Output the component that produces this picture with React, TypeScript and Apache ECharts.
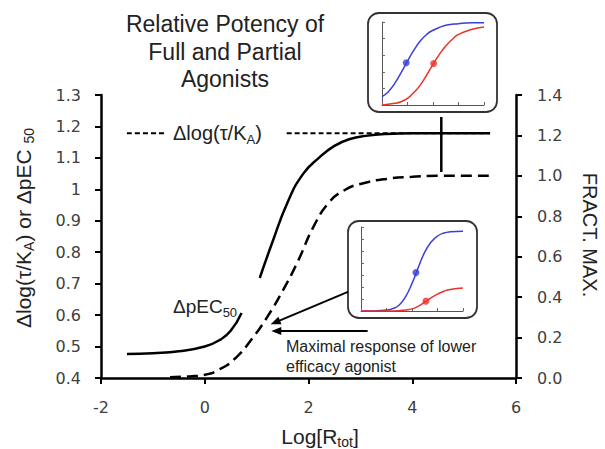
import React, { useEffect, useRef } from "react";
import * as echarts from "echarts";

// ---- main chart data ----
const xRange = [-2, 6, 2]; // min, max, interval  -> Log[Rtot]
const leftRange = [0.4, 1.3, 0.1]; // Δlog(τ/KA) or ΔpEC50
const rightRange = [0, 1.4, 0.2]; // FRACT. MAX.

// ΔpEC50 curve (solid), two pieces with a gap
const pec50LowX = [-1.5, -1.0, -0.5, 0.0, 0.3, 0.5, 0.71];
const pec50LowY = [0.476, 0.479, 0.485, 0.5, 0.522, 0.55, 0.607];
const pec50HighX = [1.06, 1.3, 1.6, 1.9, 2.2, 2.5, 2.8, 3.1, 3.5, 4.0, 4.5, 5.5];
const pec50HighY = [0.718, 0.83, 0.96, 1.05, 1.1, 1.138, 1.16, 1.17, 1.176, 1.178, 1.178, 1.178];

// Fractional maximum of lower efficacy agonist (dashed, right axis)
const fractX = [-0.67, -0.3, 0.0, 0.3, 0.6, 0.9, 1.2, 1.5, 1.8, 2.1, 2.4, 2.7, 3.0, 3.5, 4.0, 4.5, 5.5];
const fractY = [0.004, 0.008, 0.016, 0.045, 0.1, 0.19, 0.3, 0.43, 0.58, 0.75, 0.87, 0.93, 0.96, 0.985, 0.995, 1.0, 1.0];

// Δlog(τ/KA) level (fine dashed line)
const logTauKA = 1.178;
const tauLineLeftX = [-1.5, -0.77];
const tauLineRightX = [1.58, 5.5];

// connector between top inset and the two plateaus
const connectorX = 4.56;
const connectorY = [1.23, 1.055];

// arrows (data coords on right axis)
const arrowDiag = [[2.76, 0.426], [1.36, 0.275]];
const arrowHoriz = [[3.14, 0.233], [1.38, 0.233]];

// ---- inset 1 (full vs partial: potency shift) ----
const in1BlueX = [0, 0.5, 1, 1.5, 2, 2.5, 3, 3.5, 4, 5, 6, 7, 8];
const in1BlueY = [0.1, 0.16, 0.26, 0.39, 0.53, 0.66, 0.77, 0.85, 0.9, 0.96, 0.98, 0.99, 0.99];
const in1RedX = [0, 1, 1.5, 2, 2.5, 3, 3.5, 4, 4.5, 5, 5.5, 6, 7, 8];
const in1RedY = [0, 0.02, 0.04, 0.08, 0.15, 0.24, 0.36, 0.49, 0.61, 0.71, 0.79, 0.85, 0.91, 0.94];
const in1Dots = { blue: [1.9, 0.51], red: [4.05, 0.5] };

// ---- inset 2 (maximal response differs) ----
const in2BlueX = [0, 1, 2, 2.5, 3, 3.5, 4, 4.5, 5, 5.5, 6, 6.5, 7, 8];
const in2BlueY = [0, 0.002, 0.015, 0.04, 0.1, 0.24, 0.46, 0.73, 0.98, 1.15, 1.25, 1.3, 1.32, 1.33];
const in2RedX = [0, 2, 3, 3.5, 4, 4.5, 5, 5.5, 6, 6.5, 7, 8];
const in2RedY = [0, 0.001, 0.006, 0.015, 0.035, 0.08, 0.15, 0.22, 0.28, 0.33, 0.36, 0.383];
const in2Dots = { blue: [4.31, 0.64], red: [5.1, 0.165] };

const titleLines = ["Relative Potency of", "Full and Partial", "Agonists"];

const FONT = "'Liberation Sans', Arial, sans-serif";
const TICK_FONT = "'DejaVu Sans', 'Liberation Sans', sans-serif";
const BLUE = "#3b3fd8";
const RED = "#e8342c";

const zip = (xs: number[], ys: number[]) => xs.map((x, i) => [x, ys[i]]);

export default function App() {
  const ref = useRef<HTMLDivElement>(null);
  useEffect(() => {
    if (!ref.current) return;
    const chart = echarts.init(ref.current, undefined, { renderer: "svg" });

    const tickLabel = { fontSize: 16, color: "#404040", fontFamily: TICK_FONT };
    const insetAxis = (gridIndex: number, max: number, interval: number) => ({
      gridIndex,
      type: "value" as const,
      min: 0,
      max,
      interval,
      axisLine: { show: true, onZero: false, lineStyle: { color: "#555", width: 1 } },
      axisTick: { show: true, inside: true, length: 3, lineStyle: { color: "#666", width: 1 } },
      axisLabel: { show: false },
      splitLine: { show: false },
    });

    const curve = (data: number[][], xAxisIndex: number, yAxisIndex: number, color: string, width: number, type: any = "solid", z = 3) => ({
      type: "line",
      xAxisIndex,
      yAxisIndex,
      data,
      showSymbol: false,
      symbol: "none",
      smooth: 0.5,
      lineStyle: { color, width, type },
      z,
      silent: true,
    });

    const dot = (pt: number[], xAxisIndex: number, yAxisIndex: number, color: string) => ({
      type: "scatter",
      xAxisIndex,
      yAxisIndex,
      data: [pt],
      symbolSize: 7,
      itemStyle: { color },
      z: 5,
      silent: true,
    });

    const text = (t: string, x: number, y: number, fontSize: number, extra: any = {}) => ({
      type: "text",
      x,
      y,
      silent: true,
      z: 10,
      style: {
        text: t,
        fontSize,
        fontFamily: FONT,
        fill: "#222",
        align: "left",
        verticalAlign: "middle",
        ...extra,
      },
    });

    const subRich = (main: number, sub: number, pad: number) => ({
      m: { fontSize: main, fontFamily: FONT, fill: "#222" },
      s: { fontSize: sub, fontFamily: FONT, fill: "#222", padding: [pad, 0, 0, 0] },
    });

    chart.setOption({
      animation: false,
      backgroundColor: "#fff",
      grid: [
        { left: 101, top: 95, right: 89, bottom: 71 },
        { left: 382, top: 22, width: 102, height: 83 },
        { left: 361, top: 227, width: 102, height: 84 },
      ],
      xAxis: [
        {
          gridIndex: 0,
          type: "value",
          min: xRange[0],
          max: xRange[1],
          interval: xRange[2],
          axisLine: { show: true, onZero: false, lineStyle: { color: "#000", width: 2.5 } },
          axisTick: { show: true, length: 6, lineStyle: { color: "#000", width: 2 } },
          axisLabel: { ...tickLabel, margin: 21 },
          splitLine: { show: false },
        },
        insetAxis(1, 8, 2),
        insetAxis(2, 8, 2),
      ],
      yAxis: [
        {
          gridIndex: 0,
          type: "value",
          position: "left",
          min: leftRange[0],
          max: leftRange[1],
          interval: leftRange[2],
          axisLine: { show: true, onZero: false, lineStyle: { color: "#000", width: 2.5 } },
          axisTick: { show: true, length: 6, lineStyle: { color: "#000", width: 2 } },
          axisLabel: { ...tickLabel, margin: 20, formatter: (v: number) => String(Math.round(v * 10) / 10) },
          splitLine: { show: false },
        },
        {
          gridIndex: 0,
          type: "value",
          position: "right",
          min: rightRange[0],
          max: rightRange[1],
          interval: rightRange[2],
          axisLine: { show: true, onZero: false, lineStyle: { color: "#000", width: 2.5 } },
          axisTick: { show: true, length: 6, lineStyle: { color: "#000", width: 2 } },
          axisLabel: { ...tickLabel, margin: 21, formatter: (v: number) => v.toFixed(1) },
          splitLine: { show: false },
        },
        insetAxis(1, 1, 0.2),
        insetAxis(2, 1.4, 0.2),
      ],
      series: [
        // Δlog(τ/KA) fine dashed level
        curve(tauLineLeftX.map((x) => [x, logTauKA]), 0, 0, "#000", 2, [5, 3], 2),
        curve(tauLineRightX.map((x) => [x, logTauKA]), 0, 0, "#000", 2, [5, 3], 2),
        // ΔpEC50 solid
        curve(zip(pec50LowX, pec50LowY), 0, 0, "#000", 2.5),
        curve(zip(pec50HighX, pec50HighY), 0, 0, "#000", 2.5),
        // connector
        curve(connectorY.map((y) => [connectorX, y]), 0, 0, "#000", 2.5),
        // fractional max dashed + arrows
        {
          ...curve(zip(fractX, fractY), 0, 1, "#000", 2.5, [11, 6]),
          markLine: {
            silent: true,
            animation: false,
            symbol: ["none", "triangle"],
            symbolSize: [8, 10],
            label: { show: false },
            lineStyle: { color: "#000", width: 2, type: "solid" },
            data: [
              [{ coord: arrowDiag[0] }, { coord: arrowDiag[1] }],
              [{ coord: arrowHoriz[0] }, { coord: arrowHoriz[1] }],
            ],
          },
        },
        // inset 1
        curve(zip(in1BlueX, in1BlueY), 1, 2, BLUE, 1.5),
        curve(zip(in1RedX, in1RedY), 1, 2, RED, 1.5),
        dot(in1Dots.blue, 1, 2, BLUE),
        dot(in1Dots.red, 1, 2, RED),
        // inset 2
        curve(zip(in2BlueX, in2BlueY), 2, 3, BLUE, 1.5),
        curve(zip(in2RedX, in2RedY), 2, 3, RED, 1.5),
        dot(in2Dots.blue, 2, 3, BLUE),
        dot(in2Dots.red, 2, 3, RED),
      ],
      graphic: [
        {
          type: "rect",
          shape: { x: 368, y: 13, width: 129, height: 99, r: 11 },
          style: { fill: "none", stroke: "#333", lineWidth: 1.8 },
          silent: true,
          z: 1,
        },
        {
          type: "rect",
          shape: { x: 348, y: 221, width: 129, height: 97, r: 11 },
          style: { fill: "none", stroke: "#333", lineWidth: 1.8 },
          silent: true,
          z: 1,
        },
        ...titleLines.map((t, i) => text(t, 225, 24 + i * 27.5, 23, { align: "center" })),
        text("{m|Δlog(τ/K}{s|A}{m|)}", 173, 133, 20, { rich: subRich(20, 13, 12) }),
        text("{m|ΔpEC}{s|50}", 173, 306, 19, { rich: subRich(19, 13, 12) }),
        text("Maximal response of lower", 286, 346, 16),
        text("efficacy agonist", 286, 366, 16),
        {
          ...text("{m|Δlog(τ/K}{s|A}{m|) or ΔpEC }{s|50}", 23, 228, 21, {
            align: "center",
            rich: subRich(21, 14, 12),
          }),
          rotation: Math.PI / 2,
        },
        { ...text("FRACT. MAX.", 590, 235, 20, { align: "center" }), rotation: -Math.PI / 2 },
        text("{m|Log[R}{s|tot}{m|]}", 320, 436, 21, { align: "center", rich: subRich(21, 14, 12) }),
      ],
    });

    return () => chart.dispose();
  }, []);

  return (
    <div
      ref={ref}
      style={{ position: "fixed", left: 0, top: 0, width: 605, height: 449, background: "#fff" }}
    />
  );
}
